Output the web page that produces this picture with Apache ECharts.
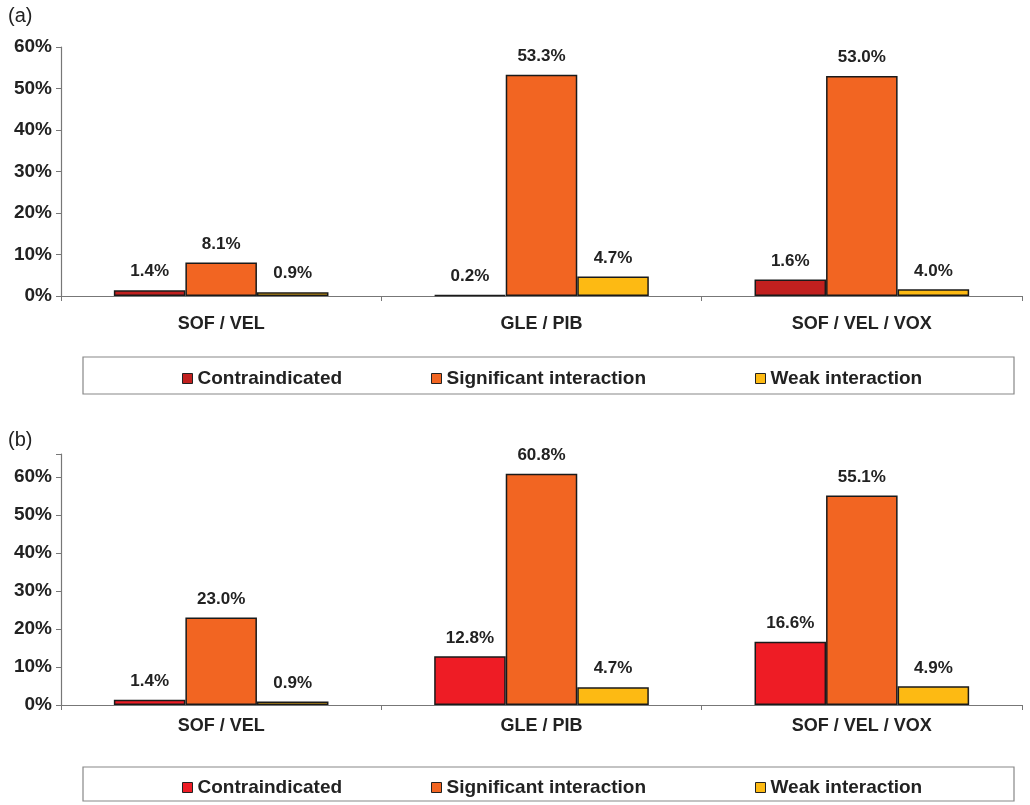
<!DOCTYPE html>
<html><head><meta charset="utf-8">
<script src="https://cdn.jsdelivr.net/npm/echarts@6/dist/echarts.min.js"></script>
<style>html,body{margin:0;padding:0;background:#fff}#c{width:1030px;height:805px}</style>
</head><body><div id="c"></div>
<script>
const categories = ['SOF / VEL', 'GLE / PIB', 'SOF / VEL / VOX'];
const seriesNames = ['Contraindicated', 'Significant interaction', 'Weak interaction'];
const yTicks = [0, 10, 20, 30, 40, 50, 60];
// Panel (a): bar heights as drawn, and their printed labels
const aContra = [1.4, 0.2, 4.0];
const aSignif = [8.1, 53.3, 53.0];
const aWeak = [0.9, 4.7, 1.6];
const aContraLbl = ['1.4%', '0.2%', '1.6%'];
const aSignifLbl = ['8.1%', '53.3%', '53.0%'];
const aWeakLbl = ['0.9%', '4.7%', '4.0%'];
// Panel (b)
const bContra = [1.4, 12.8, 16.6];
const bSignif = [23.0, 60.8, 55.1];
const bWeak = [0.9, 4.7, 4.9];
const bContraLbl = ['1.4%', '12.8%', '16.6%'];
const bSignifLbl = ['23.0%', '60.8%', '55.1%'];
const bWeakLbl = ['0.9%', '4.7%', '4.9%'];

const colA = ['#C1201F', '#F26522', '#FDBA13'];
const colB = ['#EE1C25', '#F26522', '#FDBA13'];
const FONT = 'Liberation Sans, Arial, sans-serif';
const legendLefts = [182, 431, 755];

function mkSeries(name, vals, lbls, color, idx) {
  return {
    type: 'bar', name: name, xAxisIndex: idx, yAxisIndex: idx,
    data: vals, barGap: '0%', barCategoryGap: '33%',
    itemStyle: { color: color, borderColor: '#1a1a1a', borderWidth: 1.5 },
    label: { show: true, position: 'top', distance: 10, fontFamily: FONT, fontWeight: 'bold', fontSize: 17, color: '#222',
      formatter: p => lbls[p.dataIndex] },
    emphasis: { disabled: true }
  };
}
function xAx(idx, margin) {
  return { type: 'category', gridIndex: idx, data: categories,
    axisLine: { lineStyle: { color: '#777', width: 1.2 } },
    axisTick: { show: true, alignWithLabel: false, length: 5, lineStyle: { color: '#777' } },
    axisLabel: { fontFamily: FONT, fontWeight: 'bold', fontSize: 18, color: '#222', margin: margin } };
}
function yAx(idx, max) {
  return { type: 'value', gridIndex: idx, min: 0, max: max, interval: 10,
    axisLine: { show: true, lineStyle: { color: '#777', width: 1.2 } },
    axisTick: { show: true, length: 5, lineStyle: { color: '#777' } },
    splitLine: { show: false },
    axisLabel: { fontFamily: FONT, fontWeight: 'bold', fontSize: 19, color: '#222', margin: 9,
      formatter: v => yTicks.includes(v) ? v + '%' : '' } };
}
function legends(top, cols) {
  return seriesNames.map((n, i) => ({
    top: top, left: legendLefts[i], itemWidth: 10, itemHeight: 10, itemGap: 0, icon: 'rect',
    data: [{ name: n, itemStyle: { color: cols[i], borderColor: '#222', borderWidth: 1 } }],
    textStyle: { fontFamily: FONT, fontWeight: 'bold', fontSize: 19, color: '#222' },
    selectedMode: false, padding: 0
  }));
}

const chart = echarts.init(document.getElementById('c'), null, { renderer: 'canvas' });
chart.setOption({
  animation: false,
  backgroundColor: '#fff',
  title: [
    { text: '(a)', left: 3, top: 1, textStyle: { fontFamily: FONT, fontWeight: 'normal', fontSize: 20, color: '#222' } },
    { text: '(b)', left: 3, top: 425, textStyle: { fontFamily: FONT, fontWeight: 'normal', fontSize: 20, color: '#222' } }
  ],
  grid: [
    { left: 61, right: 8, top: 47, bottom: 509 },
    { left: 61, right: 8, top: 454, bottom: 100 }
  ],
  xAxis: [xAx(0, 19), xAx(1, 12)],
  yAxis: [yAx(0, 60), yAx(1, 66)],
  legend: legends(369, colA).concat(legends(778, colB)),
  graphic: [
    { type: 'rect', shape: { x: 83, y: 357, width: 931, height: 37 }, style: { fill: 'none', stroke: '#888', lineWidth: 1.2 }, silent: true },
    { type: 'rect', shape: { x: 83, y: 767, width: 931, height: 34 }, style: { fill: 'none', stroke: '#888', lineWidth: 1.2 }, silent: true }
  ],
  series: [
    mkSeries(seriesNames[0], aContra, aContraLbl, colA[0], 0),
    mkSeries(seriesNames[1], aSignif, aSignifLbl, colA[1], 0),
    mkSeries(seriesNames[2], aWeak, aWeakLbl, colA[2], 0),
    mkSeries(seriesNames[0], bContra, bContraLbl, colB[0], 1),
    mkSeries(seriesNames[1], bSignif, bSignifLbl, colB[1], 1),
    mkSeries(seriesNames[2], bWeak, bWeakLbl, colB[2], 1)
  ]
});
</script></body></html>
